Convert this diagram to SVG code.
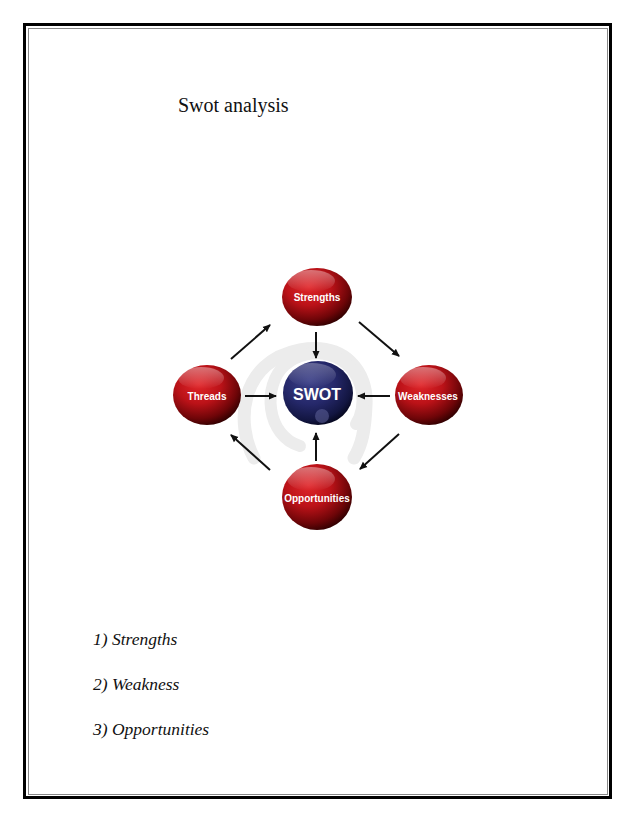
<svg xmlns="http://www.w3.org/2000/svg" width="638" height="826" viewBox="0 0 638 826">
<defs>
<radialGradient id="red" cx="0.38" cy="0.32" r="0.72">
<stop offset="0" stop-color="#e0262a"/>
<stop offset="0.45" stop-color="#bb1218"/>
<stop offset="0.8" stop-color="#6e0508"/>
<stop offset="1" stop-color="#2e0000"/>
</radialGradient>
<radialGradient id="blue" cx="0.38" cy="0.32" r="0.72">
<stop offset="0" stop-color="#3c4088"/>
<stop offset="0.5" stop-color="#25286a"/>
<stop offset="0.85" stop-color="#121540"/>
<stop offset="1" stop-color="#05061c"/>
</radialGradient>
<linearGradient id="gloss" x1="0" y1="0" x2="0" y2="1">
<stop offset="0" stop-color="#ffffff" stop-opacity="0.4"/>
<stop offset="1" stop-color="#ffffff" stop-opacity="0"/>
</linearGradient>
<marker id="ah" markerWidth="8" markerHeight="8" refX="7" refY="4" orient="auto" markerUnits="userSpaceOnUse">
<path d="M0,0.5 L8,4 L0,7.5 Z" fill="#111"/>
</marker>
</defs>
<style>
.lbl{font-family:"Liberation Sans",Arial,sans-serif;font-weight:bold;fill:#fff;text-anchor:middle;font-size:10px}
.big{font-size:16px}
.arr{stroke:#111;stroke-width:2;fill:none;marker-end:url(#ah)}
.title{font-family:"Liberation Serif","Times New Roman",serif;font-size:20px;fill:#111}
.item{font-family:"Liberation Serif","Times New Roman",serif;font-style:italic;font-size:17.5px;fill:#111}
.swirl{fill:none;stroke:#ececec;stroke-linecap:round}
</style>
<rect width="638" height="826" fill="#fff"/>
<g id="frame">
<rect x="24.5" y="24.5" width="586" height="773" fill="none" stroke="#000" stroke-width="3"/>
<rect x="28.5" y="28.5" width="579" height="766" fill="none" stroke="#888" stroke-width="1"/>
</g>
<text class="title" x="178" y="112">Swot analysis</text>
<g id="swirl">
<path class="swirl" stroke-width="13" d="M254,458 C236,425 238,362 300,350 C345,342 368,372 366,405 C365,430 362,445 354,458"/>
<path class="swirl" stroke-width="12" d="M300,446 C266,436 262,385 285,365 C310,343 355,352 362,392 C364,408 360,418 356,424"/>
</g>
<g id="connectors">
<line class="arr" x1="316" y1="332" x2="316" y2="358"/>
<line class="arr" x1="359" y1="322" x2="399" y2="356"/>
<line class="arr" x1="231" y1="359" x2="270" y2="325"/>
<line class="arr" x1="245" y1="396" x2="276" y2="396"/>
<line class="arr" x1="390" y1="396" x2="358" y2="396"/>
<line class="arr" x1="399" y1="434" x2="360" y2="469"/>
<line class="arr" x1="316" y1="461" x2="316" y2="433"/>
<line class="arr" x1="270" y1="470" x2="231" y2="435"/>
</g>
<g id="strengths">
<ellipse cx="317" cy="297" rx="35" ry="29" fill="url(#red)"/>
<ellipse cx="311" cy="281" rx="24" ry="11" fill="url(#gloss)"/>
<text class="lbl" x="317" y="301">Strengths</text>
</g>
<g id="threads">
<ellipse cx="207" cy="395" rx="34" ry="30" fill="url(#red)"/>
<ellipse cx="201" cy="378" rx="23" ry="11" fill="url(#gloss)"/>
<text class="lbl" x="207" y="399.5">Threads</text>
</g>
<g id="swot">
<ellipse cx="318" cy="393" rx="35" ry="32" fill="url(#blue)"/>
<ellipse cx="312" cy="375" rx="24" ry="12" fill="url(#gloss)" opacity="0.7"/>
<circle cx="322" cy="416" r="7" fill="#5a5d95" opacity="0.6"/>
<text class="lbl big" x="317" y="400">SWOT</text>
</g>
<g id="weaknesses">
<ellipse cx="429" cy="395" rx="34" ry="30" fill="url(#red)"/>
<ellipse cx="423" cy="378" rx="23" ry="11" fill="url(#gloss)"/>
<text class="lbl" x="428" y="399.5">Weaknesses</text>
</g>
<g id="opportunities">
<ellipse cx="317" cy="497" rx="35" ry="33" fill="url(#red)"/>
<ellipse cx="311" cy="479" rx="24" ry="12" fill="url(#gloss)"/>
<text class="lbl" x="317" y="501.5">Opportunities</text>
</g>
<text class="item" x="93" y="645">1)  Strengths</text>
<text class="item" x="93" y="690">2) Weakness</text>
<text class="item" x="93" y="735">3) Opportunities</text>
</svg>
